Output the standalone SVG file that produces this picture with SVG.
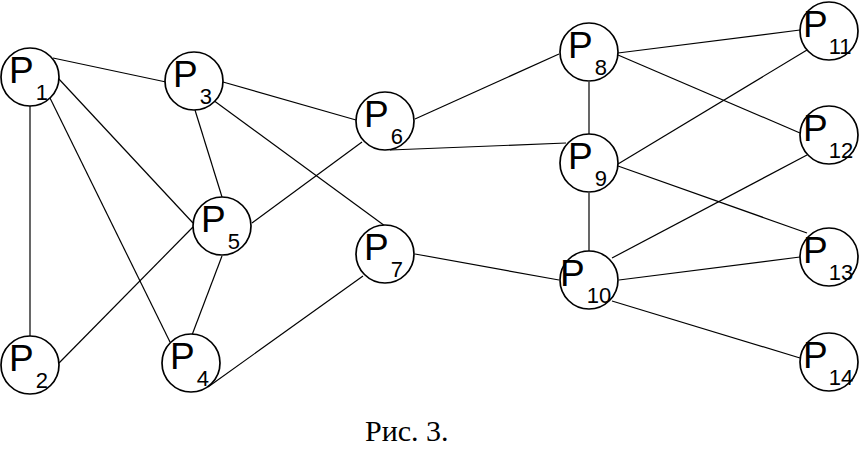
<svg xmlns="http://www.w3.org/2000/svg" width="859" height="449" viewBox="0 0 859 449">
<style>
.n circle{fill:#fff;stroke:#000;stroke-width:1.7}
.n text{font-family:"Liberation Sans",Arial,sans-serif;font-size:37px;fill:#000}
.n tspan{font-size:22px}
#edges line{stroke:#000;stroke-width:1.2}
.cap{font-family:"Liberation Serif","Times New Roman",serif;font-size:30px;fill:#000}
</style>
<rect width="859" height="449" fill="#fff"/>
<g id="edges">
<line x1="53" y1="58" x2="166" y2="82"/>
<line x1="30" y1="106" x2="30" y2="336"/>
<line x1="58" y1="78" x2="193" y2="223"/>
<line x1="50" y1="98" x2="170" y2="342"/>
<line x1="195" y1="110" x2="222" y2="197"/>
<line x1="223" y1="82" x2="356" y2="120"/>
<line x1="213" y1="100" x2="385" y2="226"/>
<line x1="59" y1="363" x2="193" y2="227"/>
<line x1="222" y1="256" x2="192" y2="335"/>
<line x1="252" y1="223" x2="362" y2="142"/>
<line x1="208" y1="387" x2="363" y2="276"/>
<line x1="415" y1="119" x2="559" y2="54"/>
<line x1="390" y1="150" x2="566" y2="143"/>
<line x1="415" y1="254" x2="559" y2="280"/>
<line x1="589" y1="82" x2="589" y2="134"/>
<line x1="618" y1="53" x2="800" y2="30"/>
<line x1="618" y1="55" x2="800" y2="133"/>
<line x1="589" y1="193" x2="589" y2="251"/>
<line x1="618" y1="164" x2="807" y2="50"/>
<line x1="618" y1="166" x2="807" y2="233"/>
<line x1="612" y1="258" x2="807" y2="155"/>
<line x1="619" y1="280" x2="800" y2="257"/>
<line x1="612" y1="301" x2="800" y2="358"/>
</g>
<g id="P1" class="n"><circle cx="30" cy="77" r="29"/><text x="9" y="83">P<tspan dx="2" dy="17">1</tspan></text></g>
<g id="P2" class="n"><circle cx="30" cy="365" r="29"/><text x="9" y="371">P<tspan dx="2" dy="17">2</tspan></text></g>
<g id="P3" class="n"><circle cx="194" cy="81" r="29"/><text x="173" y="87">P<tspan dx="2" dy="17">3</tspan></text></g>
<g id="P4" class="n"><circle cx="191" cy="363" r="29"/><text x="170" y="369">P<tspan dx="2" dy="17">4</tspan></text></g>
<g id="P5" class="n"><circle cx="222" cy="226" r="29"/><text x="201" y="232">P<tspan dx="2" dy="17">5</tspan></text></g>
<g id="P6" class="n"><circle cx="385" cy="121" r="29"/><text x="364" y="127">P<tspan dx="2" dy="17">6</tspan></text></g>
<g id="P7" class="n"><circle cx="385" cy="254" r="29"/><text x="364" y="260">P<tspan dx="2" dy="17">7</tspan></text></g>
<g id="P8" class="n"><circle cx="589" cy="52" r="29"/><text x="568" y="58">P<tspan dx="2" dy="17">8</tspan></text></g>
<g id="P9" class="n"><circle cx="589" cy="163" r="29"/><text x="568" y="169">P<tspan dx="2" dy="17">9</tspan></text></g>
<g id="P10" class="n"><circle cx="589" cy="280" r="29"/><text x="560" y="286">P<tspan dx="2" dy="17">10</tspan></text></g>
<g id="P11" class="n"><circle cx="829" cy="31" r="29"/><text x="803" y="37">P<tspan dx="1" dy="17">11</tspan></text></g>
<g id="P12" class="n"><circle cx="829" cy="135" r="29"/><text x="803" y="141">P<tspan dx="1" dy="17">12</tspan></text></g>
<g id="P13" class="n"><circle cx="829" cy="257" r="29"/><text x="803" y="263">P<tspan dx="1" dy="17">13</tspan></text></g>
<g id="P14" class="n"><circle cx="829" cy="362" r="29"/><text x="803" y="368">P<tspan dx="1" dy="17">14</tspan></text></g>
<text class="cap" x="365" y="441">Рис. 3.</text>
</svg>
